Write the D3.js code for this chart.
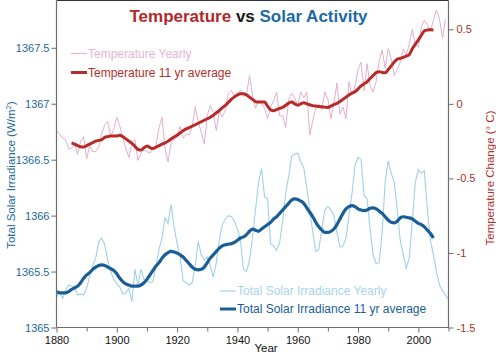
<!DOCTYPE html>
<html><head><meta charset="utf-8">
<script src="https://cdn.jsdelivr.net/npm/d3@7"></script>
<style>
html,body{margin:0;padding:0;background:#fff;}
svg{display:block;font-family:"Liberation Sans",Arial,sans-serif;}
</style></head>
<body>
<svg id="chart" width="496" height="354"></svg>
<script>
// ---------- data ----------
const yearStart = 1880;
const tempYearly = [
 -0.18,-0.20,-0.23,-0.24,-0.30,-0.30,-0.27,-0.34,-0.25,-0.22,
 -0.37,-0.28,-0.32,-0.32,-0.29,-0.20,-0.14,-0.12,-0.22,-0.17,
 -0.09,-0.15,-0.23,-0.30,-0.36,-0.26,-0.24,-0.38,-0.33,-0.31,
 -0.32,-0.33,-0.30,-0.28,-0.16,-0.09,-0.30,-0.39,-0.26,-0.24,
 -0.22,-0.15,-0.23,-0.20,-0.21,-0.15,-0.02,-0.12,-0.19,-0.27,
 -0.08,-0.01,-0.06,-0.18,-0.05,-0.09,-0.04,0.07,0.09,0.05,
 0.07,0.09,0.05,0.06,0.19,0.06,-0.03,0.02,0.00,-0.03,
 -0.10,-0.02,0.02,0.08,-0.08,-0.08,-0.16,0.03,0.07,0.04,
 -0.01,0.08,0.04,0.08,-0.21,-0.11,-0.03,0.00,-0.04,0.08,
 0.03,-0.10,0.00,0.14,-0.07,-0.02,-0.10,0.15,0.06,0.12,
 0.23,0.28,0.09,0.27,0.12,0.08,0.15,0.29,0.36,0.24,
 0.37,0.30,0.19,0.23,0.28,0.37,0.33,0.40,0.50,0.40,
 0.38,0.52,0.56,0.53,0.49,0.56,0.63,0.57,0.44,0.57
];
const tempAvgStart = 1885;
const tempAvg = [
 -0.262,-0.27,-0.28,-0.288,-0.29,
 -0.28,-0.27,-0.26,-0.25,-0.245,-0.24,-0.225,-0.22,-0.215,-0.215,
 -0.215,-0.21,-0.22,-0.235,-0.25,-0.265,-0.285,-0.305,-0.31,-0.295,
 -0.282,-0.293,-0.30,-0.29,-0.28,-0.27,-0.262,-0.25,-0.235,-0.223,
 -0.21,-0.195,-0.18,-0.168,-0.16,-0.15,-0.14,-0.13,-0.12,-0.11,
 -0.10,-0.09,-0.076,-0.06,-0.045,-0.025,-0.01,0.01,0.03,0.047,
 0.06,0.068,0.068,0.06,0.045,0.03,0.015,0.012,0.013,0.012,
 -0.015,-0.04,-0.047,-0.038,-0.03,-0.024,-0.01,0.005,0.013,0.0,
 -0.009,0.0,0.007,0.0,-0.006,-0.012,-0.015,-0.018,-0.02,-0.022,
 -0.024,-0.015,-0.005,0.003,0.015,0.03,0.045,0.06,0.072,0.081,
 0.10,0.12,0.135,0.148,0.17,0.19,0.21,0.215,0.21,0.208,
 0.23,0.255,0.28,0.30,0.305,0.312,0.32,0.33,0.37,0.40,
 0.428,0.46,0.49,0.495,0.497,0.495
];
const tsiYearly = [
 1365.27,1365.32,1365.26,1365.33,1365.38,1365.37,1365.36,1365.29,1365.30,1365.29,
 1365.35,1365.46,1365.55,1365.62,1365.77,1365.80,1365.74,1365.60,1365.50,1365.43,
 1365.39,1365.36,1365.30,1365.31,1365.35,1365.23,1365.52,1365.38,1365.52,1365.43,
 1365.42,1365.40,1365.41,1365.55,1365.70,1365.80,1365.98,1365.93,1366.10,1365.90,
 1365.75,1365.62,1365.42,1365.40,1365.38,1365.40,1365.55,1365.77,1365.65,1365.60,
 1365.63,1365.55,1365.45,1365.58,1365.78,1365.92,1365.97,1366.00,1365.99,1365.95,
 1365.88,1365.78,1365.52,1365.50,1365.60,1365.80,1366.05,1366.30,1366.42,1366.17,
 1366.15,1365.75,1365.73,1365.69,1365.76,1365.95,1366.20,1366.35,1366.53,1366.55,
 1366.56,1366.48,1366.43,1366.25,1366.05,1365.85,1365.68,1365.70,1365.88,1366.05,
 1366.08,1366.05,1366.00,1365.85,1365.72,1365.73,1365.80,1366.00,1366.20,1366.45,
 1366.52,1366.50,1366.18,1366.15,1365.88,1365.65,1365.57,1365.58,1365.85,1366.30,
 1366.49,1366.38,1366.30,1366.05,1365.78,1365.65,1365.53,1365.62,1365.95,1366.30,
 1366.41,1366.38,1366.40,1366.05,1365.78,1365.65,1365.50,1365.38,1365.33,1365.29,
 1365.25
];
const tsiAvgStart = 1880;
const tsiAvg = [
 1365.32,1365.31,1365.31,1365.31,1365.32,1365.34,1365.355,1365.37,1365.40,1365.44,
 1365.47,1365.49,1365.52,1365.54,1365.555,1365.56,1365.555,1365.54,1365.525,1365.51,
 1365.48,1365.44,1365.41,1365.39,1365.38,1365.37,1365.37,1365.37,1365.38,1365.40,
 1365.43,1365.47,1365.51,1365.55,1365.58,1365.62,1365.65,1365.67,1365.68,1365.675,
 1365.665,1365.65,1365.63,1365.60,1365.57,1365.54,1365.52,1365.515,1365.52,1365.54,
 1365.58,1365.62,1365.65,1365.68,1365.71,1365.73,1365.74,1365.745,1365.75,1365.76,
 1365.78,1365.80,1365.81,1365.83,1365.86,1365.88,1365.87,1365.86,1365.88,1365.90,
 1365.92,1365.94,1365.97,1365.99,1366.02,1366.05,1366.08,1366.11,1366.14,1366.15,
 1366.145,1366.13,1366.11,1366.07,1366.03,1365.99,1365.94,1365.90,1365.87,1365.85,
 1365.85,1365.86,1365.88,1365.92,1365.97,1366.02,1366.06,1366.08,1366.09,1366.08,
 1366.06,1366.05,1366.045,1366.05,1366.065,1366.07,1366.06,1366.04,1366.02,1365.99,
 1365.96,1365.94,1365.935,1365.95,1365.98,1365.99,1365.985,1365.98,1365.97,1365.95,
 1365.93,1365.92,1365.90,1365.87,1365.84,1365.80
];
const xTicks = [1880,1900,1920,1940,1960,1980,2000];
const xMinorTicks = [1890,1910,1930,1950,1970,1990,2010];
const tsiTicks = [1365,1365.5,1366,1366.5,1367,1367.5];
const tempTicks = [-1.5,-1,-0.5,0,0.5];
const titleParts = [["Temperature","#b3282a"],[" vs ","#1a1a1a"],["Solar Activity","#1c6aa3"]];
const legendTop = [["Temperature Yearly","#e4b6d3",1.2],["Temperature 11 yr average","#b5302b",3]];
const legendBottom = [["Total Solar Irradiance Yearly","#a9d5ea",1.2],["Total Solar Irradiance 11 yr average","#1a5e97",3]];

// ---------- colours ----------
const cTempY = "#e2afcf", cTempA = "#b82a28", cTsiY = "#a0d1e8", cTsiA = "#1a5e97";
const axisCol = "#6d6d6d";

const svg = d3.select("#chart");
const L = 56.5, R = 448.5, T = 0.5, B = 327.5;

const x = d3.scaleLinear().domain([1880, 2010]).range([L, R]);
const yS = d3.scaleLinear().domain([1365, 1367.5]).range([B, 47.8]);
const yT = d3.scaleLinear().domain([-1.5, 0.5]).range([B, 29.3]);

const toPts = (arr, start) => arr.map((v, i) => [start + i, v]);

// top frame line
svg.append("line").attr("x1", L).attr("x2", R).attr("y1", T).attr("y2", T)
  .attr("stroke", "#333").attr("stroke-width", 1);

// lines
const lineT = d3.line().x(d => x(d[0])).y(d => yT(d[1]));
const lineS = d3.line().x(d => x(d[0])).y(d => yS(d[1]));
const lineTs = d3.line().curve(d3.curveMonotoneX).x(d => x(d[0])).y(d => yT(d[1]));
const lineSs = d3.line().curve(d3.curveMonotoneX).x(d => x(d[0])).y(d => yS(d[1]));

svg.append("path").attr("d", lineT(toPts(tempYearly, yearStart)))
  .attr("fill", "none").attr("stroke", cTempY).attr("stroke-width", 1);
svg.append("path").attr("d", lineS(toPts(tsiYearly, yearStart)))
  .attr("fill", "none").attr("stroke", cTsiY).attr("stroke-width", 1.1);
svg.append("path").attr("d", lineTs(toPts(tempAvg, tempAvgStart)))
  .attr("fill", "none").attr("stroke", cTempA).attr("stroke-width", 3).attr("stroke-linejoin", "round");
svg.append("path").attr("d", lineSs(toPts(tsiAvg, tsiAvgStart)))
  .attr("fill", "none").attr("stroke", cTsiA).attr("stroke-width", 3.2).attr("stroke-linejoin", "round");

// axes
const gL = svg.append("g").attr("transform", `translate(${L},0)`)
  .call(d3.axisLeft(yS).tickValues(tsiTicks).tickSize(5).tickPadding(2).tickFormat(d => String(d)));
const gR = svg.append("g").attr("transform", `translate(${R},0)`)
  .call(d3.axisRight(yT).tickValues(tempTicks).tickSize(5).tickPadding(3).tickFormat(d => String(d)));
const gB = svg.append("g").attr("transform", `translate(0,${B})`)
  .call(d3.axisBottom(x).tickValues(xTicks).tickSize(5).tickPadding(4).tickFormat(d => String(d)));
const gBm = svg.append("g").attr("transform", `translate(0,${B})`)
  .call(d3.axisBottom(x).tickValues(xMinorTicks).tickSize(4).tickFormat(""));

[gL, gR, gB, gBm].forEach(g => {
  g.select(".domain").attr("stroke", axisCol).attr("stroke-width", 1.2);
  g.selectAll(".tick line").attr("stroke", axisCol);
  g.selectAll("text").style("font-family", '"Liberation Sans",Arial,sans-serif').style("font-size", "11px");
});
gL.select(".domain").attr("d", `M-0,${B}V${T}`);
gR.select(".domain").attr("d", `M0,${B}V${T}`);
gB.select(".domain").attr("d", `M${L},0H${R}`);
gBm.select(".domain").remove();
gL.selectAll("text").attr("fill", "#23699c");
gR.selectAll("text").attr("fill", "#a8322c");
gB.selectAll("text").attr("fill", "#111");

// axis titles
const lblL = svg.append("text").attr("transform", "translate(15,175) rotate(-90)")
  .attr("text-anchor", "middle").attr("fill", "#23699c").style("font-size", "11.5px");
lblL.append("tspan").text("Total Solar Irradiance (W/m");
lblL.append("tspan").attr("dy", -4).style("font-size", "8px").text("2");
lblL.append("tspan").attr("dy", 4).text(")");
svg.append("text").attr("transform", "translate(494,178) rotate(-90)")
  .attr("text-anchor", "middle").attr("fill", "#b3302b").style("font-size", "11.5px")
  .text("Temperature Change (° C)");
svg.append("text").attr("x", 266).attr("y", 352).attr("text-anchor", "middle")
  .attr("fill", "#111").style("font-size", "11.5px").text("Year");

// title
const title = svg.append("text").attr("x", 248.5).attr("y", 22).attr("text-anchor", "middle")
  .style("font-size", "17px").style("font-weight", "bold");
titleParts.forEach(p => title.append("tspan").attr("fill", p[1]).text(p[0]));

// legends
function legend(items, lx, ly, dy) {
  items.forEach((it, i) => {
    const yy = ly + i * dy;
    svg.append("line").attr("x1", lx).attr("x2", lx + 16).attr("y1", yy).attr("y2", yy)
      .attr("stroke", it[1]).attr("stroke-width", it[2]);
    svg.append("text").attr("x", lx + 17).attr("y", yy + 4.3).attr("fill", it[1])
      .style("font-size", "12px").text(it[0]);
  });
}
legend(legendTop, 71, 53.5, 19);
legend(legendBottom, 220, 291, 18);
</script>
</body></html>
